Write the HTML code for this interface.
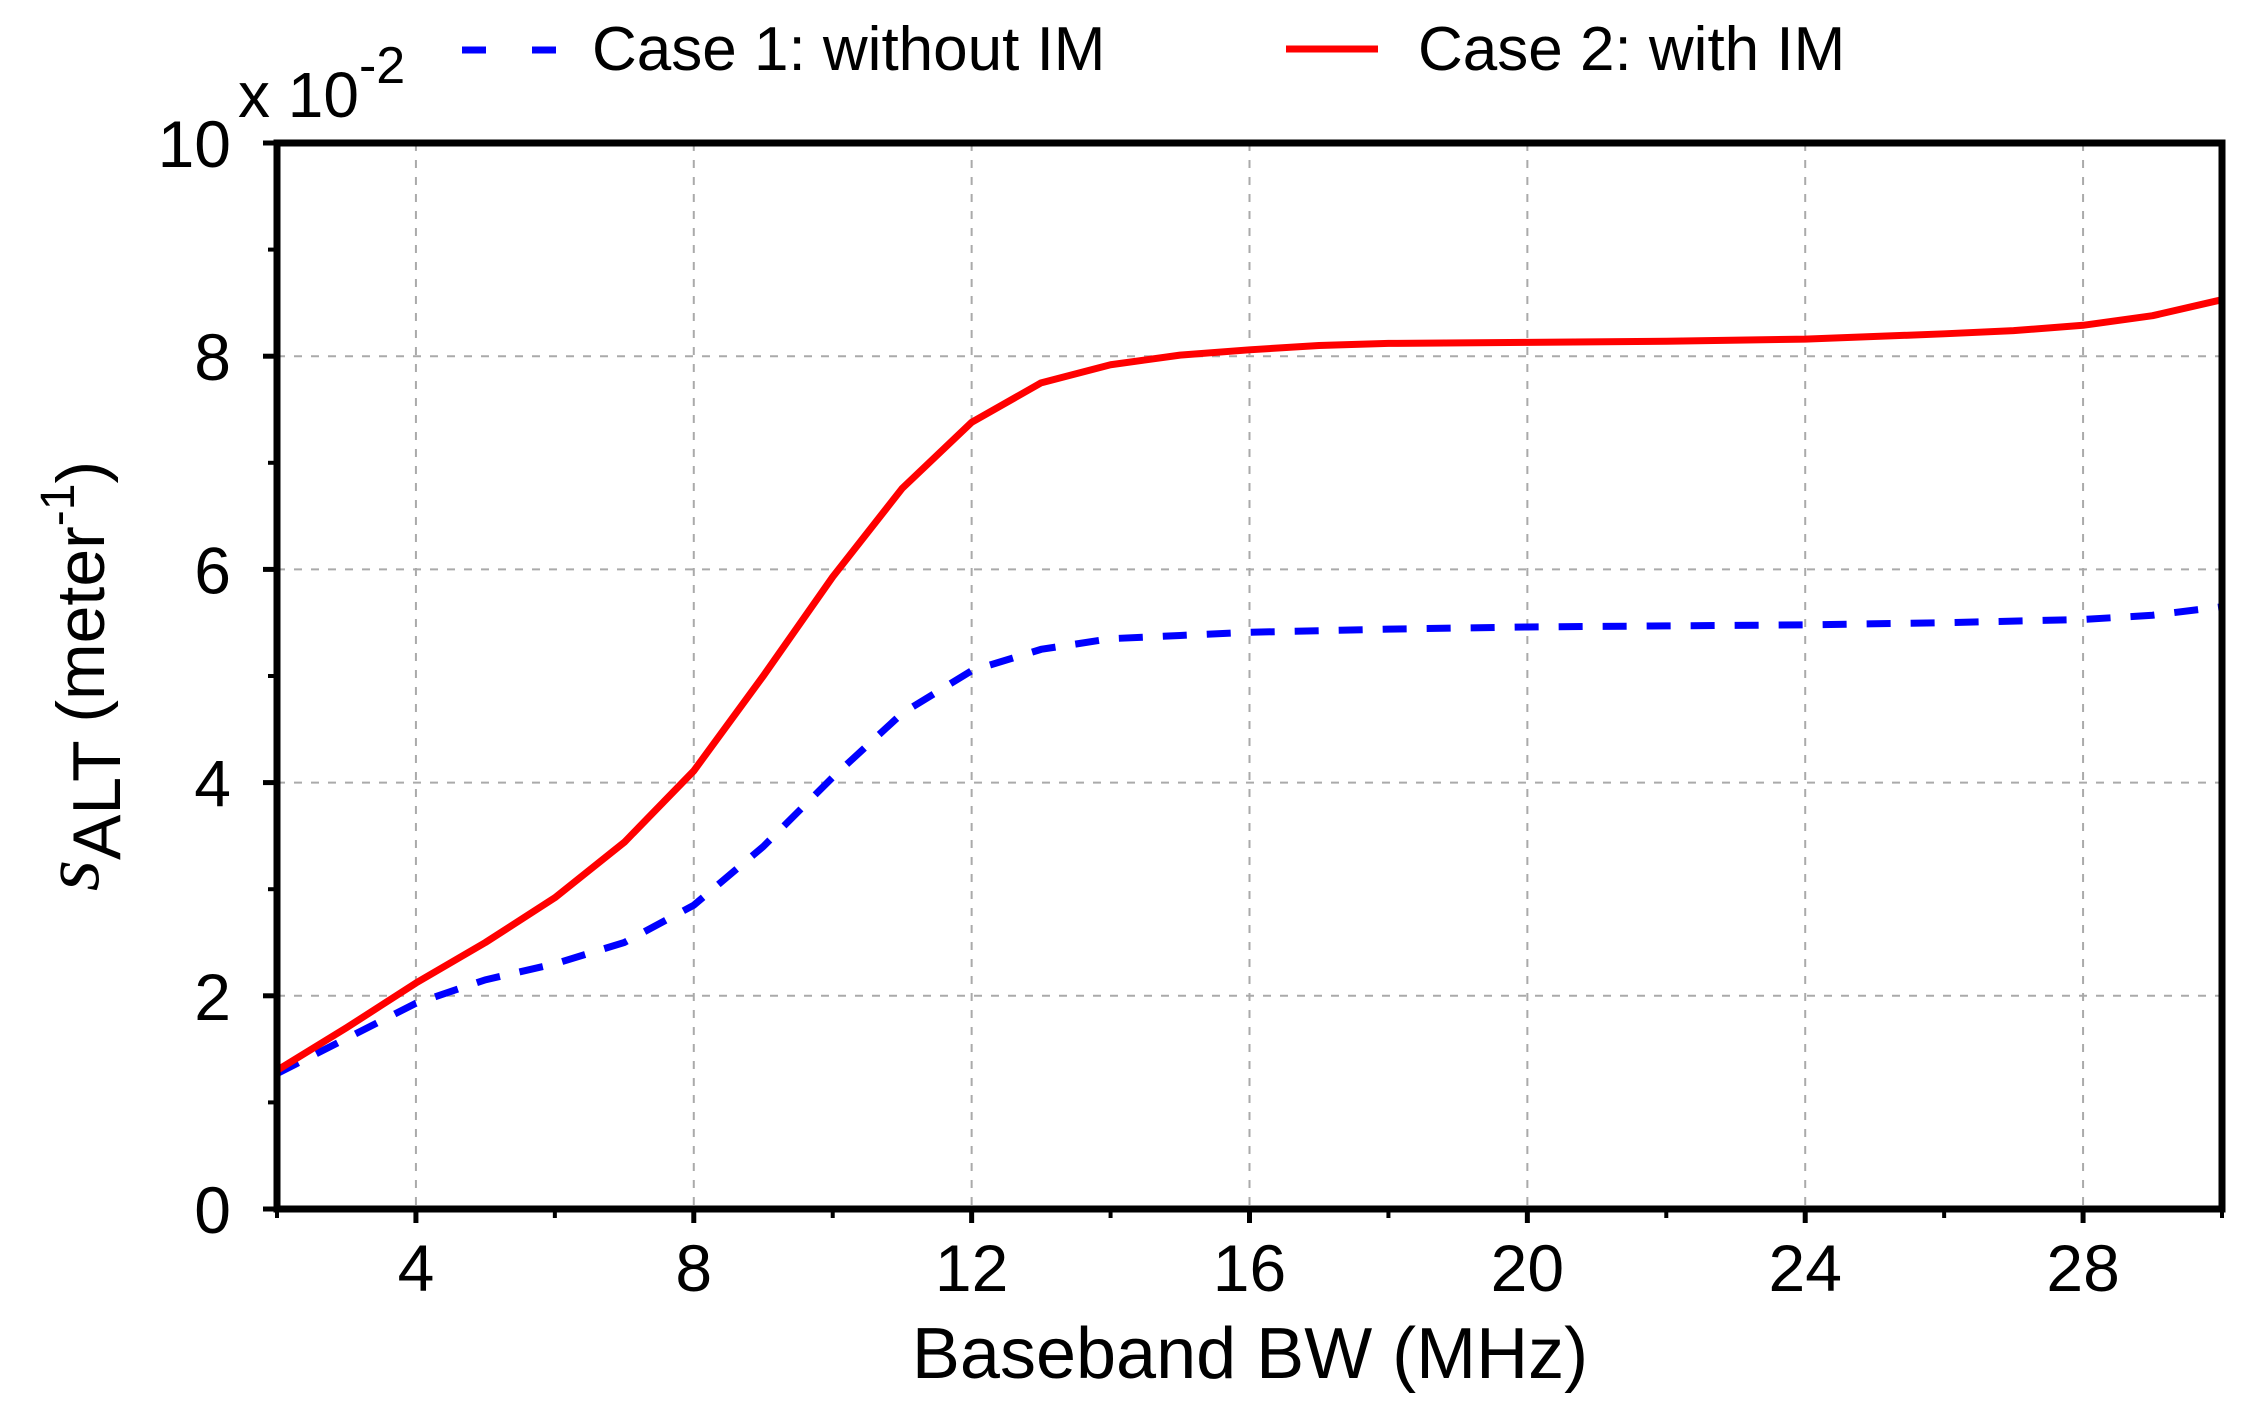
<!DOCTYPE html>
<html><head><meta charset="utf-8"><style>html,body{margin:0;padding:0;background:#fff}svg{display:block}text{font-family:"Liberation Sans",Arial,sans-serif;fill:#000}</style></head>
<body>
<svg id="chart" width="2241" height="1406" viewBox="0 0 2241 1406" xmlns="http://www.w3.org/2000/svg">
<g id="grid"></g>
<g id="series"></g>
<g id="axes"></g>
<text x="238" y="117" font-size="64">x 10<tspan font-size="52" dy="-34">-2</tspan></text>
<text x="1250" y="1378" font-size="72" text-anchor="middle">Baseband BW (MHz)</text>
<text transform="translate(104,676) rotate(-90)" font-size="68" text-anchor="middle"><tspan font-family="Liberation Serif,serif" font-style="italic" font-size="80" dy="-6">s</tspan><tspan dy="22">ALT</tspan><tspan dy="-16"> (meter</tspan><tspan font-size="48" dy="-30">-1</tspan><tspan dy="30">)</tspan></text>
<g>
<line x1="462" y1="50" x2="556" y2="50" stroke="#0000ff" stroke-width="7" stroke-dasharray="24 46"/>
<text x="592" y="70" font-size="62">Case 1: without IM</text>
<line x1="1286" y1="49" x2="1378" y2="49" stroke="#ff0000" stroke-width="7"/>
<text x="1418" y="70" font-size="62">Case 2: with IM</text>
</g>
</svg>
<script>
const xsCase1 = [2,3,4,5,6,7,8,9,10,11,12,13,14,15,16,18,20,22,24,26,28,29,30];
const ysCase1 = [1.27,1.6,1.93,2.15,2.3,2.5,2.85,3.4,4.05,4.65,5.05,5.25,5.35,5.38,5.41,5.44,5.46,5.47,5.48,5.5,5.53,5.57,5.65];
const xsCase2 = [2,3,4,5,6,7,8,9,10,11,12,13,14,15,16,17,18,20,22,24,26,27,28,29,30];
const ysCase2 = [1.3,1.7,2.12,2.5,2.92,3.44,4.11,5.0,5.93,6.76,7.38,7.75,7.92,8.01,8.06,8.1,8.12,8.13,8.14,8.16,8.21,8.24,8.29,8.38,8.53];
const xTicks = [4,8,12,16,20,24,28];
const xMinorTicks = [2,6,10,14,18,22,26,30];
const yTicks = [0,2,4,6,8,10];
const yMinorTicks = [1,3,5,7,9];

const L=277,R=2222,T=143,B=1209,X0=2,X1=30,Y0=0,Y1=10;
const sx=v=>L+(v-X0)/(X1-X0)*(R-L);
const sy=v=>B-(v-Y0)/(Y1-Y0)*(B-T);
const NS='http://www.w3.org/2000/svg';
function mk(tag,attrs,parent){const e=document.createElementNS(NS,tag);for(const k in attrs)e.setAttribute(k,attrs[k]);parent.appendChild(e);return e;}
const grid=document.getElementById('grid'),axes=document.getElementById('axes'),series=document.getElementById('series');

xTicks.forEach(v=>{
  const g=mk('line',{x1:sx(v),x2:sx(v),y1:T,y2:B,stroke:'#aaa','stroke-width':2,'stroke-dasharray':'8 9'},grid);
  
  
  const t=mk('line',{x1:sx(v),x2:sx(v),y1:B,y2:B+14,stroke:'#000','stroke-width':5},axes);
  
  
  const l=mk('text',{x:sx(v),y:1291,'font-size':66,'text-anchor':'middle'},axes);
  l.textContent=v;
  
  
});
xMinorTicks.forEach(v=>{
  const t=mk('line',{x1:sx(v),x2:sx(v),y1:B,y2:B+9,stroke:'#000','stroke-width':4},axes);
  
  
});
yTicks.forEach(v=>{
  if(v>0&&v<10){
    const g=mk('line',{x1:L,x2:R,y1:sy(v),y2:sy(v),stroke:'#aaa','stroke-width':2,'stroke-dasharray':'8 9'},grid);
    
    
  }
  const t=mk('line',{x1:L-14,x2:L,y1:sy(v),y2:sy(v),stroke:'#000','stroke-width':5},axes);
  
  
  const l=mk('text',{x:231,y:sy(v)+24,'font-size':66,'text-anchor':'end'},axes);
  l.textContent=v;
  
  
});
yMinorTicks.forEach(v=>{
  const t=mk('line',{x1:L-9,x2:L,y1:sy(v),y2:sy(v),stroke:'#000','stroke-width':4},axes);
  
  
});
const frame=mk('rect',{x:L,y:T,width:R-L,height:B-T,fill:'none',stroke:'#000','stroke-width':7},axes);



const p1=mk('polyline',{points:xsCase1.map((x,i)=>sx(x)+','+sy(ysCase1[i])).join(' '),fill:'none',stroke:'#0000ff','stroke-width':7,'stroke-dasharray':'24 20'},series);


const p2=mk('polyline',{points:xsCase2.map((x,i)=>sx(x)+','+sy(ysCase2[i])).join(' '),fill:'none',stroke:'#ff0000','stroke-width':7,'stroke-linejoin':'round'},series);


</script>
</body></html>
